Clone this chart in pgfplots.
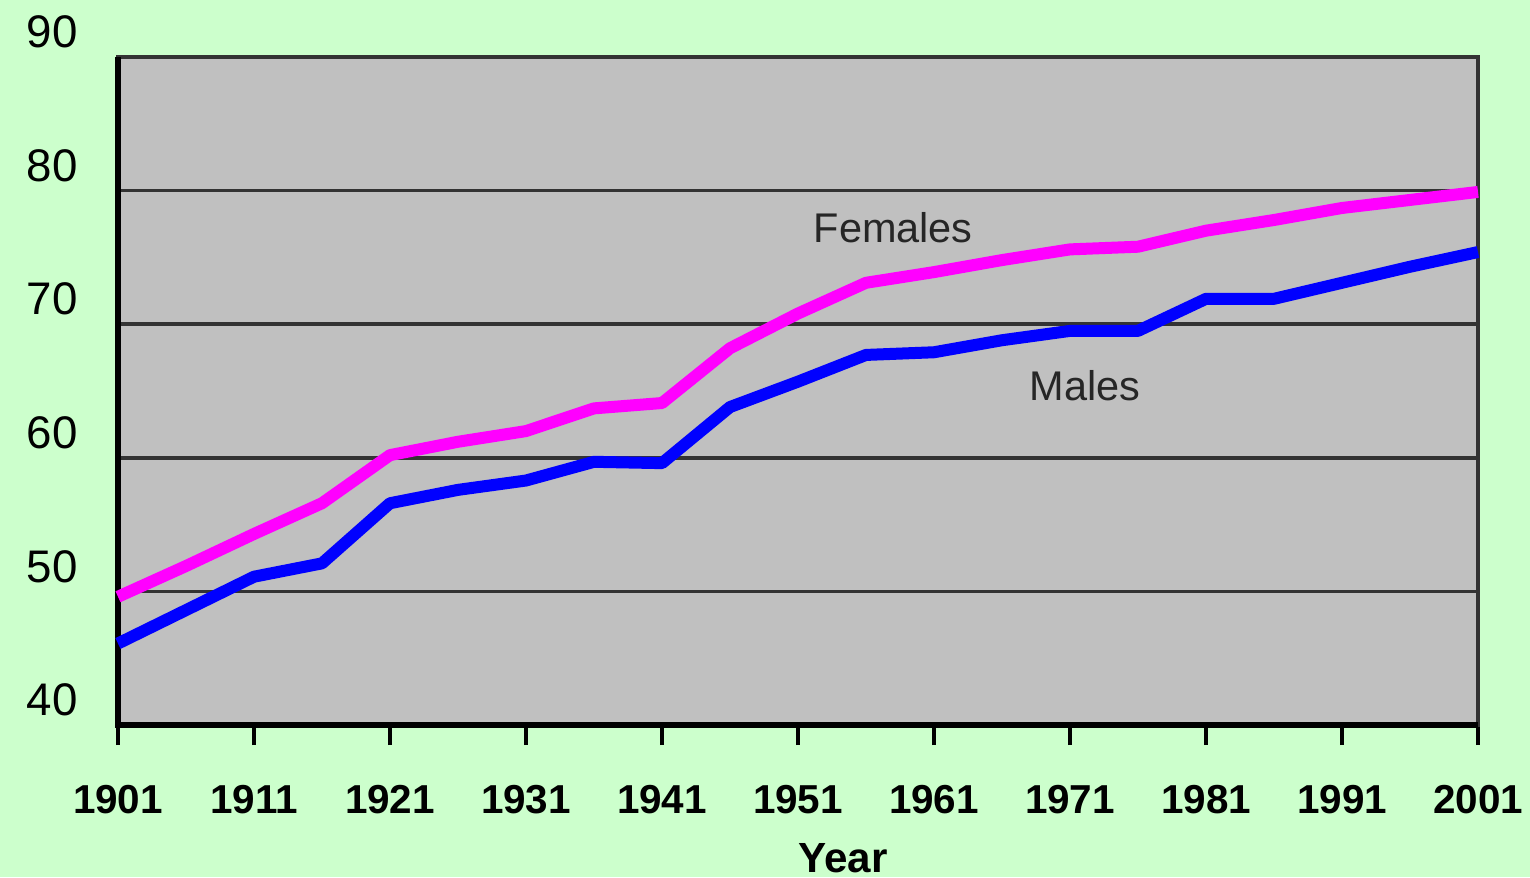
\documentclass[border=0pt]{standalone}
\usepackage{pgfplots}
\pgfplotsset{compat=1.18}
\usepackage{pgfplotstable}
\usepackage{fontspec}
\setmainfont{Liberation Sans}
\definecolor{bg}{HTML}{CCFFCC}
\definecolor{plotbg}{HTML}{C0C0C0}
\definecolor{gridc}{HTML}{333333}
\definecolor{fem}{HTML}{FF00FF}
\definecolor{mal}{HTML}{0000FF}

\pgfplotstableread{
year female male
1901 49.6 46.1
1906 51.9 48.6
1911 54.3 51.1
1916 56.6 52.1
1921 60.2 56.6
1926 61.2 57.6
1931 62.0 58.3
1936 63.7 59.7
1941 64.1 59.6
1946 68.2 63.8
1951 70.8 65.7
1956 73.1 67.7
1961 73.9 67.9
1966 74.8 68.8
1971 75.6 69.5
1976 75.8 69.5
1981 77.0 71.9
1986 77.8 71.9
1991 78.7 73.1
1996 79.3 74.3
2001 79.9 75.4
}\data

\begin{document}
\begin{tikzpicture}
\path[use as bounding box, fill=bg] (0,0) rectangle (153mm,87.7mm);
\begin{axis}[
  at={(11.8mm,15.2mm)}, anchor=south west,
  scale only axis, width=136mm, height=66.8mm,
  xmin=1901, xmax=2001, ymin=40, ymax=90,
  axis background/.style={fill=plotbg},
  axis line style={draw=gridc, line width=0.35mm},
  xtick={1901,1911,1921,1931,1941,1951,1961,1971,1981,1991,2001},
  xticklabels={1901,1911,1921,1931,1941,1951,1961,1971,1981,1991,2001},
  ytick={40,50,60,70,80,90},
  yticklabels={40,50,60,70,80,90},
  ymajorgrids,
  grid style={draw=gridc, line width=0.35mm},
  tick align=outside,
  xtick pos=bottom,
  xtick style={black, line width=0.45mm},
  major tick length=2mm,
  ytick style={draw=none},
  x tick label style={font=\fontsize{11.5}{13}\selectfont\bfseries, text=black, yshift=-2.8mm},
  y tick label style={font=\fontsize{13}{15}\selectfont, text=black, xshift=-0.8mm, yshift=2.5mm},
  xlabel={Year},
  xlabel style={font=\fontsize{12}{14}\selectfont\bfseries, at={(axis description cs:0.533,-0.199)}, anchor=center},
  clip=false,
]
\draw[black, line width=0.6mm] (rel axis cs:0,1) -- (rel axis cs:0,0) -- (rel axis cs:1,0);
\addplot[fem, line width=1.2mm, line join=round] table[x=year, y=female] {\data};
\addplot[mal, line width=1.2mm, line join=round] table[x=year, y=male] {\data};
\node[font=\fontsize{11.8}{14}\selectfont, text=black!85] at (axis cs:1958,77.2) {Females};
\node[font=\fontsize{11.8}{14}\selectfont, text=black!85] at (axis cs:1972.1,65.4) {Males};
\end{axis}
\end{tikzpicture}
\end{document}
